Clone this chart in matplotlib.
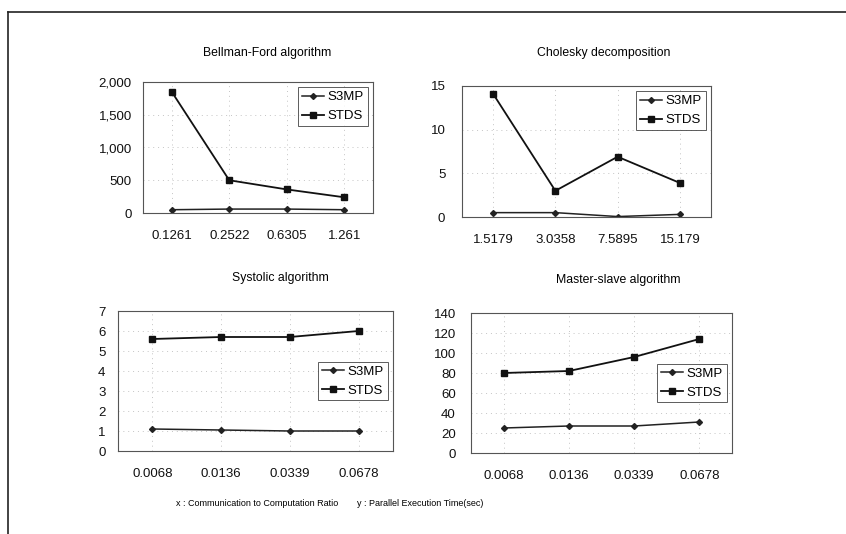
import matplotlib
matplotlib.use("Agg")
import matplotlib.pyplot as plt
from matplotlib.lines import Line2D
from matplotlib.ticker import FuncFormatter

plt.rcParams["font.family"] = ["Liberation Sans", "DejaVu Sans"]

bf_x = ["0.1261", "0.2522", "0.6305", "1.261"]
bf_s3mp = [50, 60, 60, 50]
bf_stds = [1850, 500, 360, 240]

ch_x = ["1.5179", "3.0358", "7.5895", "15.179"]
ch_s3mp = [0.5, 0.5, 0.05, 0.3]
ch_stds = [14.1, 3.0, 6.9, 3.9]

sy_x = ["0.0068", "0.0136", "0.0339", "0.0678"]
sy_s3mp = [1.1, 1.05, 1.0, 1.0]
sy_stds = [5.6, 5.7, 5.7, 6.0]

ms_x = ["0.0068", "0.0136", "0.0339", "0.0678"]
ms_s3mp = [25, 27, 27, 31]
ms_stds = [80, 82, 96, 114]

W, H = 846, 534
fig = plt.figure(figsize=(W / 100, H / 100), dpi=100)


def box(x0, y0, x1, y1):
    return [x0 / W, 1 - y1 / H, (x1 - x0) / W, (y1 - y0) / H]


# rect, title, title centre (px), categories, series, ylim, yticks, legend loc, commas, y pad
panels = [
    (box(143, 82, 373, 213), "Bellman-Ford algorithm", (267, 53), bf_x, bf_s3mp, bf_stds,
     (0, 2000), [0, 500, 1000, 1500, 2000], "upper right", True, 8),
    (box(462, 86, 711, 217), "Cholesky decomposition", (604, 53), ch_x, ch_s3mp, ch_stds,
     (0, 15), [0, 5, 10, 15], "upper right", False, 12),
    (box(118, 311, 393, 451), "Systolic algorithm", (280, 278), sy_x, sy_s3mp, sy_stds,
     (0, 7), list(range(8)), "center right", False, 9),
    (box(471, 313, 732, 453), "Master-slave algorithm", (618, 280), ms_x, ms_s3mp, ms_stds,
     (0, 140), list(range(0, 141, 20)), "center right", False, 11),
]

for rect, title, tpos, cats, s3mp, stds, ylim, yticks, loc, commas, ypad in panels:
    ax = fig.add_axes(rect)
    pos = range(len(cats))
    ax.plot(pos, s3mp, color="#222222", lw=1.1, marker="D", ms=3, label="S3MP")
    ax.plot(pos, stds, color="#111111", lw=1.3, marker="s", ms=4, label="STDS")
    ax.set_xlim(-0.5, len(cats) - 0.5)
    ax.set_ylim(*ylim)
    ax.set_yticks(yticks)
    if commas:
        ax.yaxis.set_major_formatter(FuncFormatter(lambda v, p: f"{int(v):,}"))
    ax.set_xticks(list(pos))
    ax.set_xticklabels(cats)
    ax.tick_params(length=0, labelsize=9.5, colors="#111111")
    ax.tick_params(axis="x", pad=12)
    ax.tick_params(axis="y", pad=ypad)
    ax.grid(True, color="#c4c4c4", ls=(0, (1, 4)), lw=0.7)
    for s in ax.spines.values():
        s.set_color("#555555")
        s.set_linewidth(0.8)
    fig.text(tpos[0] / W, 1 - tpos[1] / H, title, fontsize=8.8,
             ha="center", va="center")
    leg = ax.legend(loc=loc, fontsize=9.5, fancybox=False, edgecolor="#333333",
                    handlelength=1.6, borderpad=0.3, labelspacing=0.5,
                    handletextpad=0.3, borderaxespad=0.4)
    leg.get_frame().set_linewidth(0.7)

fig.text(176 / W, 1 - 503 / H, "x : Communication to Computation Ratio",
         fontsize=6.5, va="center")
fig.text(357 / W, 1 - 503 / H, "y : Parallel Execution Time(sec)",
         fontsize=6.5, va="center")

# page frame from the scan
fig.add_artist(Line2D([8 / W, 1], [1 - 12 / H, 1 - 12 / H], color="#222222", lw=1.2))
fig.add_artist(Line2D([8 / W, 8 / W], [0, 1 - 12 / H], color="#222222", lw=1.2))

fig.savefig("out.png", dpi=100)
